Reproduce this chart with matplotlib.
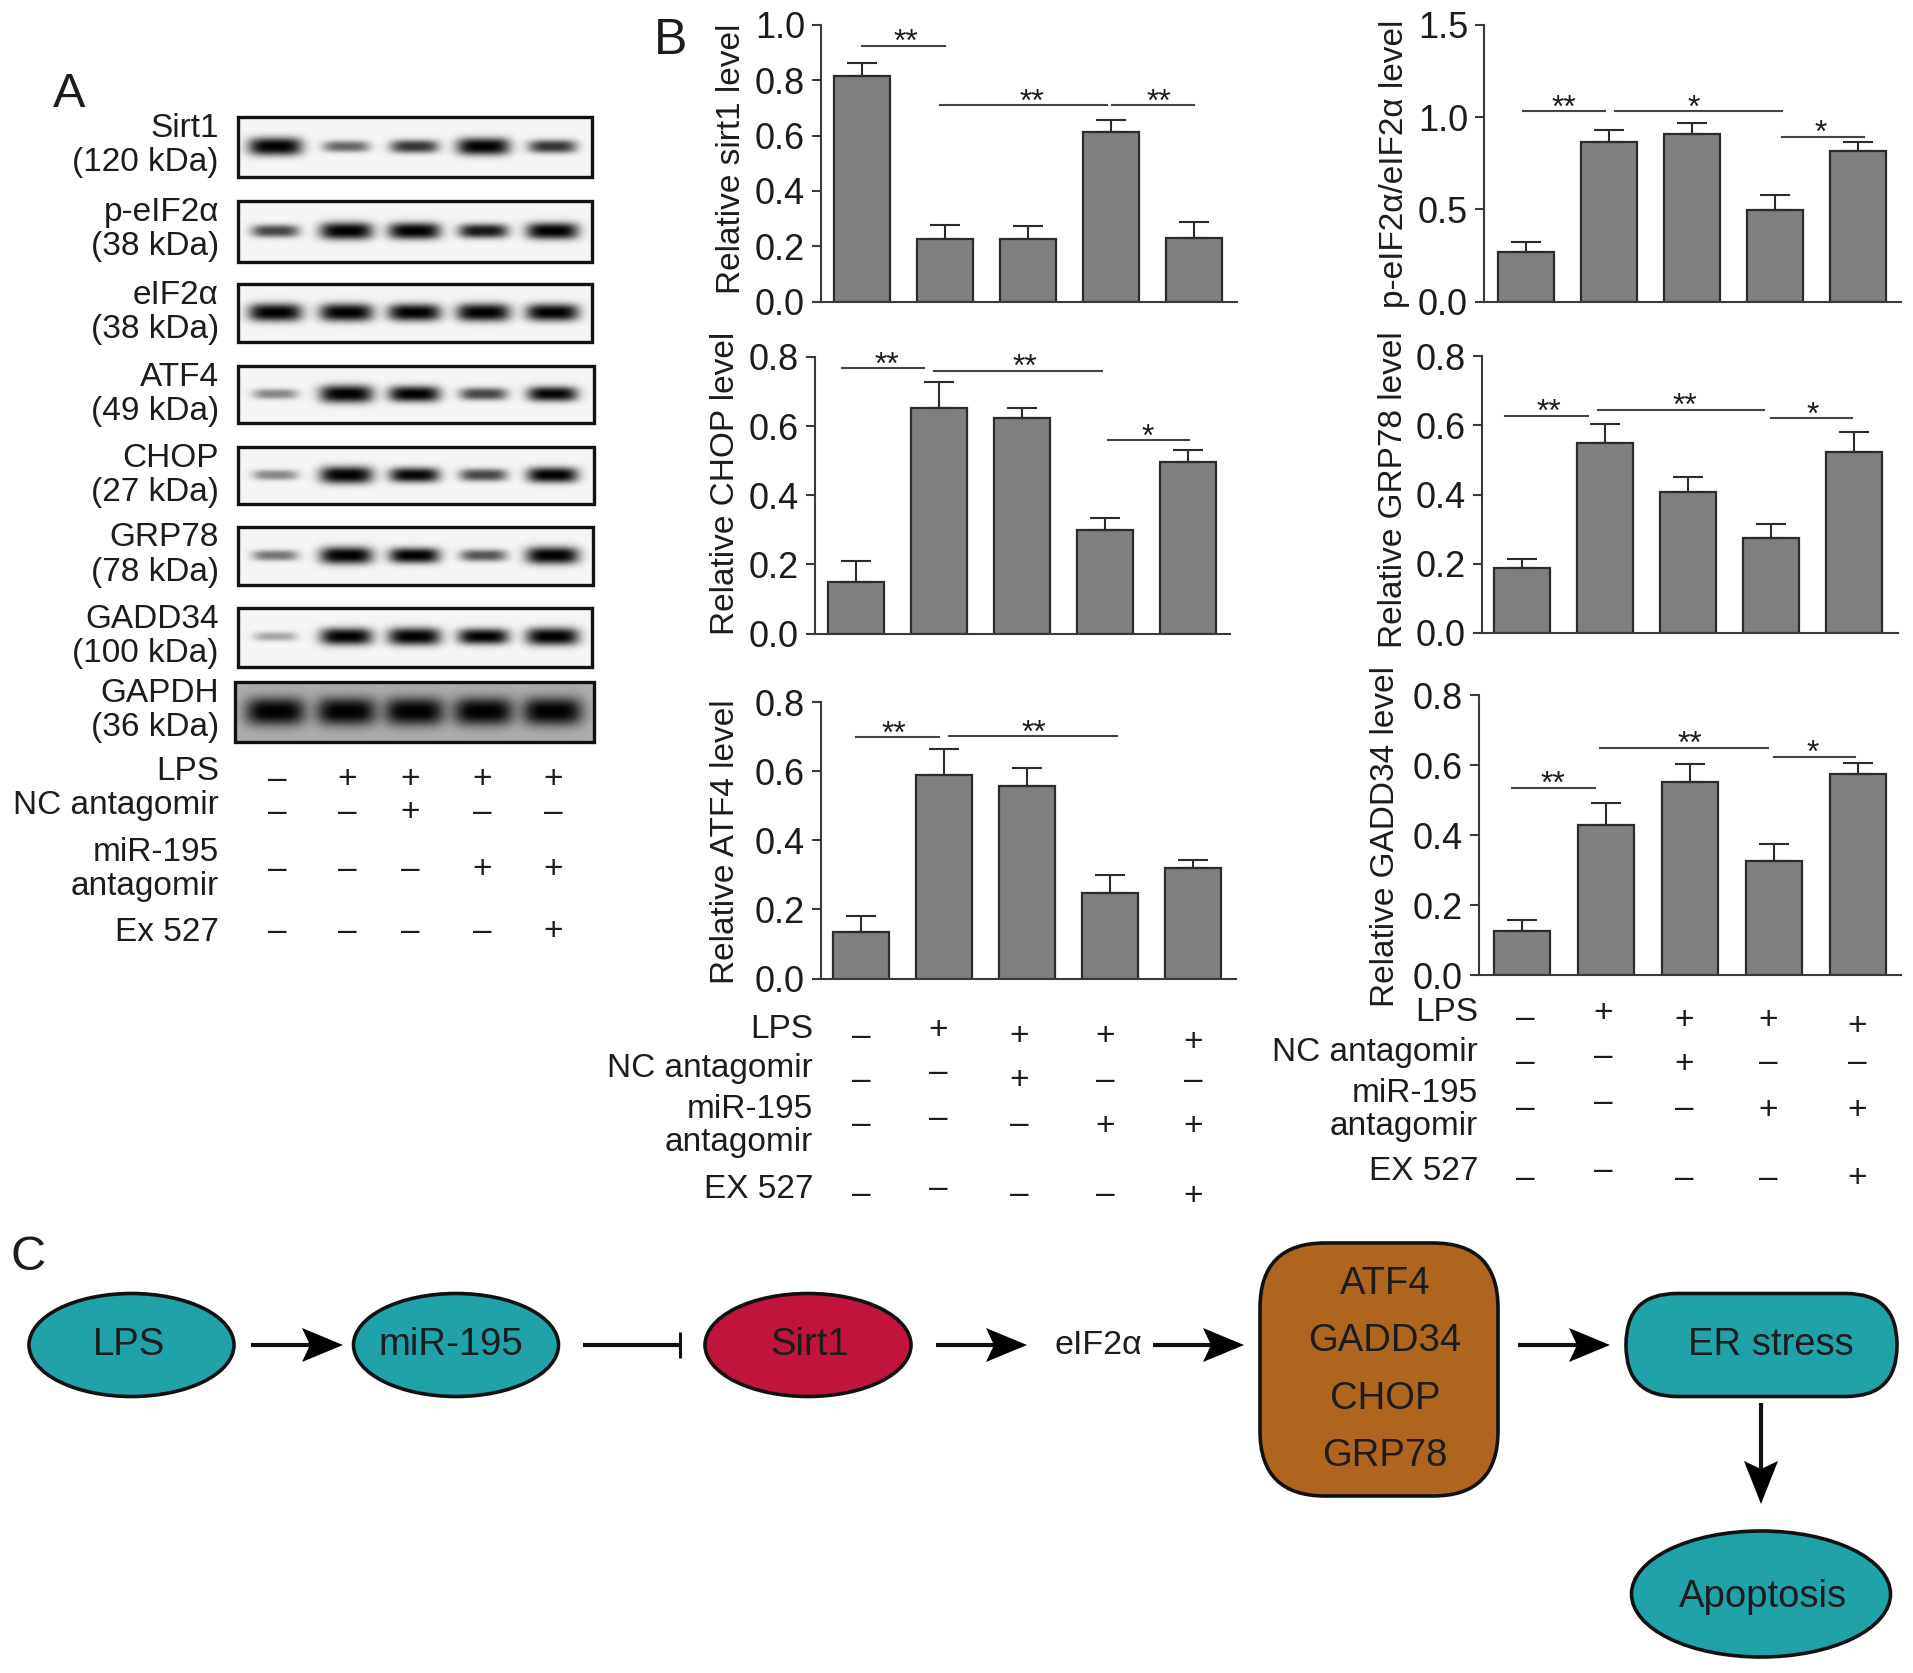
#!/usr/bin/env python3
import numpy as np
import matplotlib
matplotlib.use("Agg")
import matplotlib.pyplot as plt
from matplotlib.patches import Ellipse, FancyBboxPatch, Polygon, Rectangle

plt.rcParams['font.family'] = ['Liberation Sans', 'DejaVu Sans']

W, H = 1913, 1673
TXT = '#1c1c1c'
LINE = '#3a3a3a'
TEAL = '#1fa3a8'
RED = '#c0143c'
BROWN = '#b0651e'
FS = 24
TICK_FS = 26

# ---- bar data (mean, upper error) ----
sirt1_mean = [0.815, 0.226, 0.226, 0.612, 0.228]
sirt1_err = [0.046, 0.049, 0.046, 0.045, 0.058]
peif_mean = [0.266, 0.865, 0.908, 0.498, 0.819]
peif_err = [0.055, 0.064, 0.062, 0.080, 0.046]
chop_mean = [0.148, 0.653, 0.623, 0.299, 0.495]
chop_err = [0.063, 0.076, 0.030, 0.034, 0.035]
grp78_mean = [0.189, 0.549, 0.406, 0.273, 0.523]
grp78_err = [0.026, 0.055, 0.045, 0.042, 0.057]
atf4_mean = [0.135, 0.590, 0.556, 0.246, 0.320]
atf4_err = [0.047, 0.075, 0.053, 0.054, 0.024]
gadd34_mean = [0.126, 0.428, 0.552, 0.326, 0.575]
gadd34_err = [0.032, 0.064, 0.052, 0.048, 0.031]

# significance: x0, x1, y, star x, label
sirt1_sig = [(0.0, 1.0, 0.925, 0.53, '**'), (0.95, 2.96, 0.709, 2.05, '**'), (3.02, 4.0, 0.709, 3.58, '**')]
peif_sig = [(-0.04, 0.955, 1.032, 0.46, '**'), (1.07, 3.08, 1.032, 2.02, '*'), (3.08, 4.07, 0.894, 3.55, '*')]
chop_sig = [(-0.17, 0.82, 0.767, 0.37, '**'), (0.94, 2.96, 0.76, 2.04, '**'), (3.04, 4.01, 0.559, 3.52, '*')]
grp78_sig = [(-0.2, 0.79, 0.628, 0.33, '**'), (0.91, 2.92, 0.645, 1.96, '**'), (3.0, 3.98, 0.62, 3.5, '*')]
atf4_sig = [(-0.06, 0.94, 0.698, 0.40, '**'), (1.06, 3.08, 0.701, 2.08, '**')]
gadd34_sig = [(-0.11, 0.87, 0.535, 0.37, '**'), (0.94, 2.93, 0.65, 2.0, '**'), (3.0, 3.97, 0.624, 3.47, '*')]

# treatment table
signs = [['–', '+', '+', '+', '+'],
         ['–', '–', '+', '–', '–'],
         ['–', '–', '–', '+', '+'],
         ['–', '–', '–', '–', '+']]

# western blot: band strength per lane
blot_names = ['Sirt1\n(120 kDa)', 'p-eIF2α\n(38 kDa)', 'eIF2α\n(38 kDa)', 'ATF4\n(49 kDa)',
              'CHOP\n(27 kDa)', 'GRP78\n(78 kDa)', 'GADD34\n(100 kDa)', 'GAPDH\n(36 kDa)']
blot_bands = [[1.0, 0.45, 0.6, 0.95, 0.6],
              [0.55, 0.95, 0.9, 0.7, 0.9],
              [1.0, 1.0, 0.95, 1.0, 0.95],
              [0.35, 1.0, 0.85, 0.55, 0.75],
              [0.35, 0.95, 0.75, 0.55, 0.8],
              [0.4, 0.95, 0.8, 0.5, 0.95],
              [0.25, 0.9, 0.95, 0.8, 0.95],
              [1.0, 1.0, 1.0, 1.0, 1.0]]

# ---- layout (pixels) ----
blot_boxes = [(238, 592, 117, 177), (238, 592, 201, 262), (238, 592, 284, 342), (238, 594, 366, 423),
              (238, 594, 447, 504), (238, 593, 527, 585), (238, 592, 608, 667), (235, 594, 682, 742)]
lane_x = [275, 346, 414, 483, 552]
PATH_Y = 1345

fig = plt.figure(figsize=(W / 100, H / 100), dpi=100)
ov = fig.add_axes([0, 0, 1, 1], zorder=5)
ov.patch.set_alpha(0)
ov.axis('off')


def label(x, y, s, size=FS, ha='center', rot=0, **kw):
    ov.text(x, y, s, fontsize=size, ha=ha, va='center', rotation=rot, color=TXT,
            rotation_mode='default', **kw)


def bar_panel(mean, err, sig, ticks, ylabel, left, right, top, bottom, c0, step=83.0, width=56.0):
    ax = fig.add_axes([left / W, 1 - bottom / H, (right - left) / W, (bottom - top) / H])
    ax.patch.set_alpha(0)
    x = np.arange(len(mean))
    ax.bar(x, mean, width=width / step, color='#808080', edgecolor='#2b2b2b', linewidth=1.6)
    ax.errorbar(x, mean, yerr=[np.zeros(len(mean)), err], fmt='none', ecolor='#2b2b2b',
                elinewidth=1.5, capsize=10.5, capthick=1.5)
    ax.set_xlim((left - c0) / step, (right - c0) / step)
    ax.set_ylim(0, ticks[-1])
    ax.set_xticks([])
    ax.set_yticks(ticks)
    ax.set_yticklabels([f'{t:.1f}' for t in ticks], fontsize=TICK_FS, color=TXT)
    ax.tick_params(axis='y', length=6.5, width=1.5, color=LINE, pad=5)
    for s in ('top', 'right'):
        ax.spines[s].set_visible(False)
    for s in ('left', 'bottom'):
        ax.spines[s].set_linewidth(1.5)
        ax.spines[s].set_color(LINE)
    for x0, x1, y, sx, txt in sig:
        ax.plot([x0, x1], [y, y], color='#444444', lw=1.5, clip_on=False)
        ax.annotate(txt, (sx, y), xytext=(0, -4), textcoords='offset points', ha='center',
                    va='baseline', fontsize=FS - 1, color=TXT, annotation_clip=False)
    label(ylabel[0], ylabel[1], ylabel[2], rot=90)
    return ax


def sign_table(names, name_x, col_x, row_y):
    for y, s in names:
        label(name_x, y, s, ha='right')
    for r, row in enumerate(signs):
        for c, s in enumerate(row):
            label(col_x[c], row_y[r][c], s)


def arrow(x0, y0, x1, y1, head=41, half=17, notch=8):
    # straight shaft with a notched head
    d = np.array([x1 - x0, y1 - y0], float)
    d /= np.hypot(*d)
    n = np.array([-d[1], d[0]])
    tip = np.array([x1, y1], float)
    back = tip - d * head
    ov.plot([x0, tip[0] - d[0] * head + d[0] * notch], [y0, tip[1] - d[1] * head + d[1] * notch],
            color='#111111', lw=3, solid_capstyle='butt')
    ov.add_patch(Polygon([tip, back + n * half, back + d * notch, back - n * half],
                         closed=True, fc='black', ec='none'))


# ---- A: blots ----
for name, bands, (x0, x1, y0, y1), i in zip(blot_names, blot_bands, blot_boxes, range(8)):
    xx, yy = np.meshgrid(np.arange(x0, x1), np.arange(y0, y1))
    is_gapdh = i == len(blot_names) - 1
    img = np.full(xx.shape, 0.68 if is_gapdh else 0.96)
    cy = (y0 + y1) / 2 - 1
    for lx, s in zip(lane_x, bands):
        a = 30 if is_gapdh else 20 + 7 * s
        b = 14 if is_gapdh else 3 + 6 * s
        dark = min(1.0, s * 1.3) * np.exp(-np.abs((xx - lx) / a) ** 4 - np.abs((yy - cy) / b) ** 2.5)
        img = img * (1 - dark)
    ov.imshow(img, cmap='gray', vmin=0, vmax=1, extent=(x0, x1, y1, y0), aspect='auto',
              interpolation='bilinear')
    ov.add_patch(Rectangle((x0, y0), x1 - x0, y1 - y0, fc='none', ec='#111111', lw=2.4))
    top, sub = name.split('\n')
    label(219, y0 + 11, top, ha='right')
    label(219, y0 + 45, sub, ha='right')

sign_table([(771, 'LPS'), (805, 'NC antagomir'), (852, 'miR-195'), (886, 'antagomir'), (932, 'Ex 527')],
           219, [277, 347, 410, 482, 553],
           [[779] * 5, [812] * 5, [869] * 5, [931] * 5])

# ---- B: bars ----
bar_panel(sirt1_mean, sirt1_err, sirt1_sig, [0.0, 0.2, 0.4, 0.6, 0.8, 1.0],
          (731, 159, 'Relative sirt1 level'), 821, 1237, 25, 301.5, 861.5)
bar_panel(peif_mean, peif_err, peif_sig, [0.0, 0.5, 1.0, 1.5],
          (1394, 164, 'p-eIF2α/eIF2α level'), 1484, 1901, 25, 301.5, 1526)
bar_panel(chop_mean, chop_err, chop_sig, [0.0, 0.2, 0.4, 0.6, 0.8],
          (725, 483, 'Relative CHOP level'), 815, 1230, 357, 633.5, 856)
bar_panel(grp78_mean, grp78_err, grp78_sig, [0.0, 0.2, 0.4, 0.6, 0.8],
          (1393, 490, 'Relative GRP78 level'), 1482, 1898, 356, 633, 1522)
bar_panel(atf4_mean, atf4_err, atf4_sig, [0.0, 0.2, 0.4, 0.6, 0.8],
          (726, 842, 'Relative ATF4 level'), 821, 1236, 702, 978.5, 861)
bar_panel(gadd34_mean, gadd34_err, gadd34_sig, [0.0, 0.2, 0.4, 0.6, 0.8],
          (1386, 836, 'Relative GADD34 level'), 1479, 1901, 695, 975, 1521.5, step=84.0)

sign_table([(1029, 'LPS'), (1069, 'NC antagomir'), (1110, 'miR-195'), (1143, 'antagomir'), (1190, 'EX 527')],
           813, [861, 938, 1019, 1105, 1193],
           [[1036, 1030, 1037, 1037, 1043],
            [1080, 1072, 1081, 1080, 1080],
            [1125, 1118, 1125, 1126, 1126],
            [1195, 1188, 1195, 1195, 1196]])
sign_table([(1012, 'LPS'), (1052, 'NC antagomir'), (1093, 'miR-195'), (1126, 'antagomir'), (1172, 'EX 527')],
           1478, [1525, 1603, 1684, 1768, 1857],
           [[1019, 1013, 1020, 1020, 1027],
            [1063, 1056, 1064, 1063, 1063],
            [1109, 1102, 1109, 1110, 1110],
            [1178, 1171, 1178, 1178, 1179]])

# ---- C: pathway ----
for cx, cy, w, h, col, lx, ly, s in [(131.5, PATH_Y, 205, 103, TEAL, 129, PATH_Y, 'LPS'),
                                     (456, PATH_Y, 205, 103, TEAL, 451, PATH_Y, 'miR-195'),
                                     (808, PATH_Y, 206, 103, RED, 810, PATH_Y, 'Sirt1'),
                                     (1761, 1594, 259, 126, TEAL, 1763, 1597, 'Apoptosis')]:
    ov.add_patch(Ellipse((cx, cy), w, h, fc=col, ec='#111111', lw=2.6))
    label(lx, ly, s, size=27.5)

ov.add_patch(FancyBboxPatch((1260 + 65, 1243 + 65), 238 - 130, 253 - 130,
                            boxstyle='round,pad=65,rounding_size=65', fc=BROWN, ec='#111111', lw=2.6))
for y, s in zip([1284, 1341, 1399, 1456], ['ATF4', 'GADD34', 'CHOP', 'GRP78']):
    label(1385, y, s, size=27.5)
ov.add_patch(FancyBboxPatch((1626 + 51, PATH_Y - 0.5), 271 - 102, 1,
                            boxstyle='round,pad=51,rounding_size=51', fc=TEAL, ec='#111111', lw=2.6))
label(1771, PATH_Y, 'ER stress', size=27.5)
label(1098, PATH_Y, 'eIF2α', size=24.5)

arrow(251, PATH_Y, 343, PATH_Y)
arrow(936, PATH_Y, 1027, PATH_Y)
arrow(1153, PATH_Y, 1244, PATH_Y)
arrow(1518, PATH_Y, 1610, PATH_Y)
arrow(1761, 1403, 1761, 1504, head=43, half=17)
ov.plot([583, 679], [PATH_Y, PATH_Y], color='#111111', lw=3, solid_capstyle='butt')
ov.plot([680, 680], [PATH_Y - 13, PATH_Y + 13], color='#111111', lw=2.2, solid_capstyle='butt')

# panel letters
label(69, 94, 'A', size=35)
label(671, 41, 'B', size=36)
label(28, 1258, 'C', size=35)

ov.set_xlim(0, W)
ov.set_ylim(H, 0)

fig.savefig('out.png', dpi=100)
